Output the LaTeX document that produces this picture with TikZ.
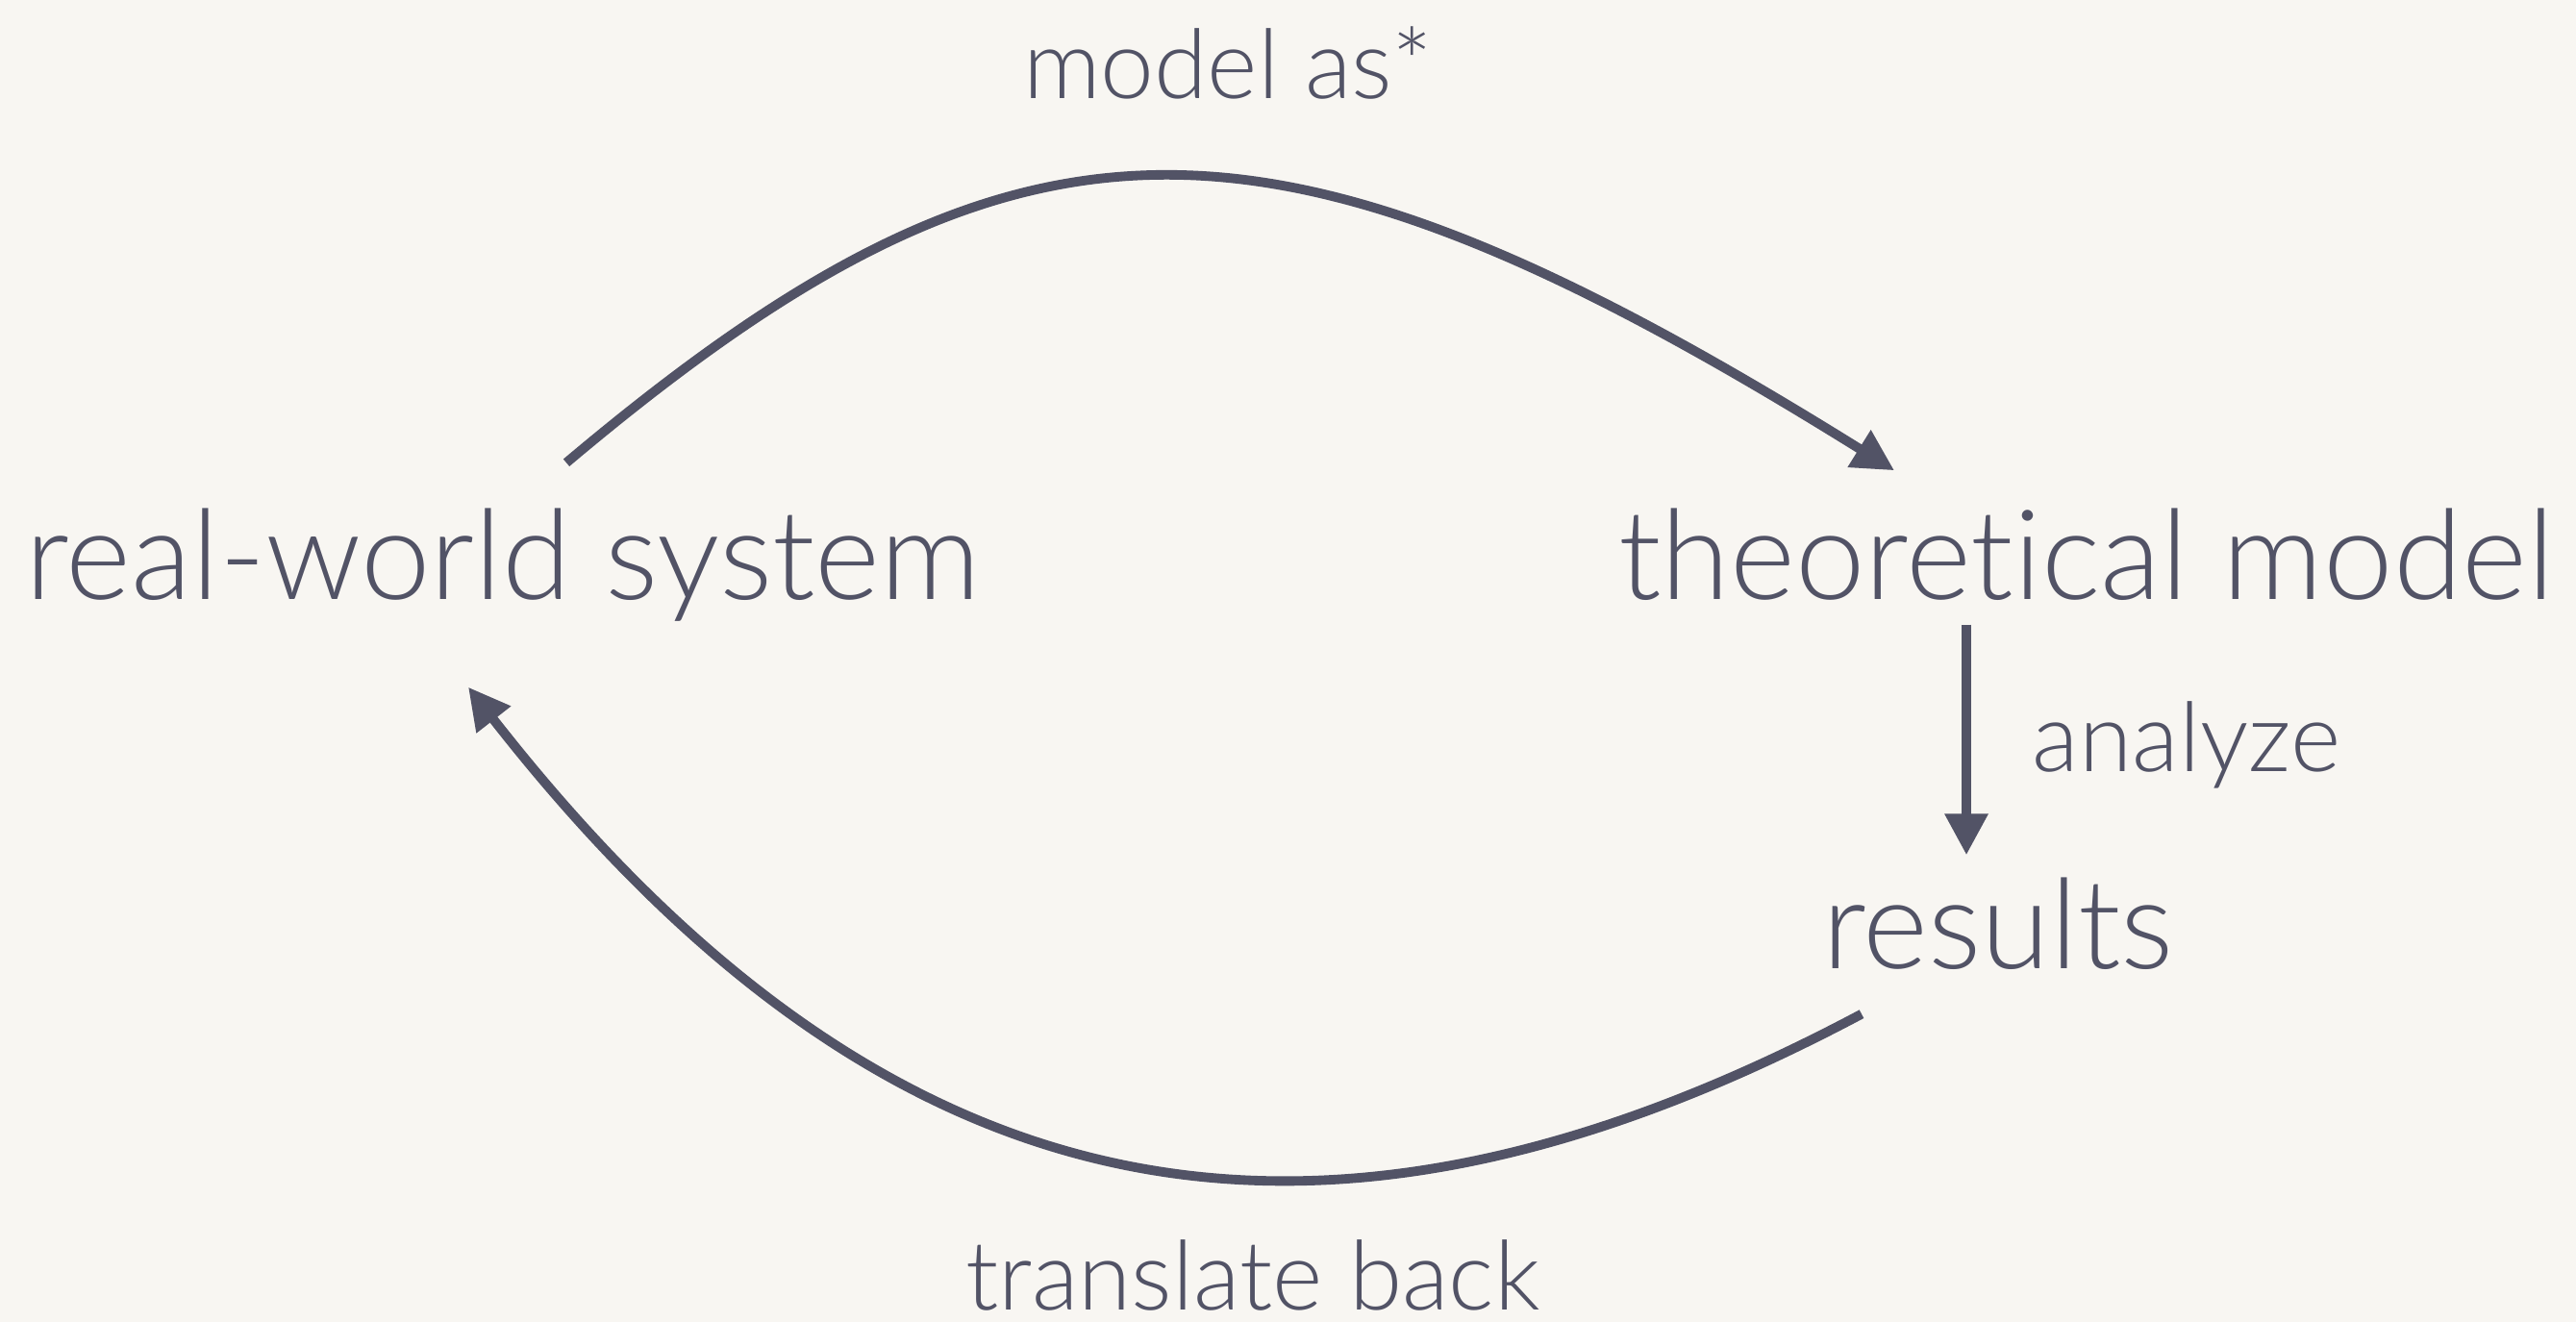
\documentclass[tikz,border=0pt]{standalone}
\usepackage{fontspec}
\setmainfont{Lato Light}[Ligatures=NoCommon]
\definecolor{ink}{RGB}{82,83,102}
\definecolor{paper}{RGB}{248,246,242}
\usetikzlibrary{calc,positioning,arrows.meta}

\begin{document}
\begin{tikzpicture}[
  font=\fontsize{37}{41}\selectfont,
  term/.style={
    text=ink, anchor=base, inner sep=0pt,
    text height=0.95cm, text depth=0.3cm
  },
  label/.style={text=ink, anchor=base, font=\fontsize{28.5}{32}\selectfont},
  arrow/.style={-{Triangle[length=4.3mm,width=4.3mm]}, line width=2.8pt, draw=ink}
]
\fill[paper] (0,0) rectangle (26.79,13.75);
\useasboundingbox (0,0) rectangle (26.79,13.75);

\node[term] (real) at (5.23,7.51) {real-world system};
\node[term] (theo) at (21.70,7.51) {theoretical model};
\node[term] (res) at (20.78,3.67) {results};

% the cycle
\draw[arrow] ($(real.north)+(0.66,0.47)$)
  .. controls +(4.71,3.97) and +(-6.5,4.05) .. ($(theo.north)+(-2.00,0.39)$);
\draw[arrow] ($(theo.south)+(-1.25,0.05)$) -- ($(res.north)+(-0.33,0.23)$);
\draw[arrow] ($(res.south)+(-1.42,-0.16)$)
  .. controls +(-5.74,-3.05) and +(4.31,-5.52) .. ($(real.south)+(-0.36,-0.60)$);

\node[label] (modelas) at (12.77,12.72) {model as*};
\node[label] (analyze) at (22.74,5.72) {analyze};
\node[label] (back) at (13.03,0.12) {translate back};
\end{tikzpicture}
\end{document}
